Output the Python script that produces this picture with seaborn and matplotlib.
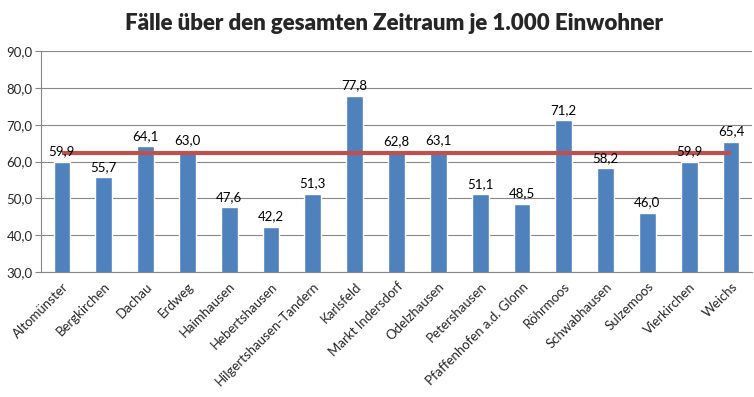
import matplotlib
matplotlib.use("Agg")
import matplotlib.pyplot as plt
import seaborn as sns
import pandas as pd
import numpy as np

gemeinden = ["Altomünster", "Bergkirchen", "Dachau", "Erdweg", "Haimhausen",
             "Hebertshausen", "Hilgertshausen-Tandern", "Karlsfeld",
             "Markt Indersdorf", "Odelzhausen", "Petershausen",
             "Pfaffenhofen a.d. Glonn", "Röhrmoos", "Schwabhausen",
             "Sulzemoos", "Vierkirchen", "Weichs"]
faelle = [59.9, 55.7, 64.1, 63.0, 47.6, 42.2, 51.3, 77.8, 62.8, 63.1,
          51.1, 48.5, 71.2, 58.2, 46.0, 59.9, 65.4]
durchschnitt = 62.3
y_ticks = [30, 40, 50, 60, 70, 80, 90]

sns.set_style("white")
plt.rcParams["font.family"] = ["Lato", "DejaVu Sans"]

df = pd.DataFrame({"Gemeinde": gemeinden, "Faelle": faelle})

fig = plt.figure(figsize=(7.54, 3.97), dpi=100)
ax = fig.add_axes([41 / 754, 125 / 397, 711 / 754, 221 / 397])

ax.set_axisbelow(True)
ax.yaxis.grid(True, color="#868686", lw=0.8)
sns.barplot(data=df, x="Gemeinde", y="Faelle", color="#4F81BD",
            width=0.4, saturation=1, ax=ax)
n = len(gemeinden)
ax.plot([0, n - 1], [durchschnitt, durchschnitt], color="#C0504D", lw=3,
        solid_capstyle="butt", zorder=3)

for i, v in enumerate(faelle):
    ax.text(i, v + 1.2, f"{v:.1f}".replace(".", ","), ha="center",
            va="bottom", fontsize=9.5, color="black", zorder=4)

ax.set_ylim(30, 90)
ax.set_xlim(-0.5, n - 0.5)
ax.set_yticks(y_ticks)
ax.set_yticklabels([f"{t:.1f}".replace(".", ",") for t in y_ticks],
                   fontsize=9.5)
ax.set_xticks(range(n))
ax.set_xticklabels(gemeinden, rotation=45, ha="right",
                   rotation_mode="anchor", fontsize=9.5)
ax.tick_params(axis="x", length=0, pad=6)
ax.set_xticks(np.arange(-0.5, n, 1), minor=True)
ax.tick_params(axis="x", which="minor", length=4, color="#868686")
ax.tick_params(axis="y", length=4, color="#868686", pad=2, left=True)
ax.set_xlabel("")
ax.set_ylabel("")

for s in ["top", "right"]:
    ax.spines[s].set_visible(False)
for s in ["left", "bottom"]:
    ax.spines[s].set_color("#868686")
    ax.spines[s].set_linewidth(0.8)

fig.text(0.522, 0.94, "Fälle über den gesamten Zeitraum je 1.000 Einwohner",
         ha="center", va="center", fontsize=16, fontweight="heavy")

fig.savefig("out.png", dpi=100)
